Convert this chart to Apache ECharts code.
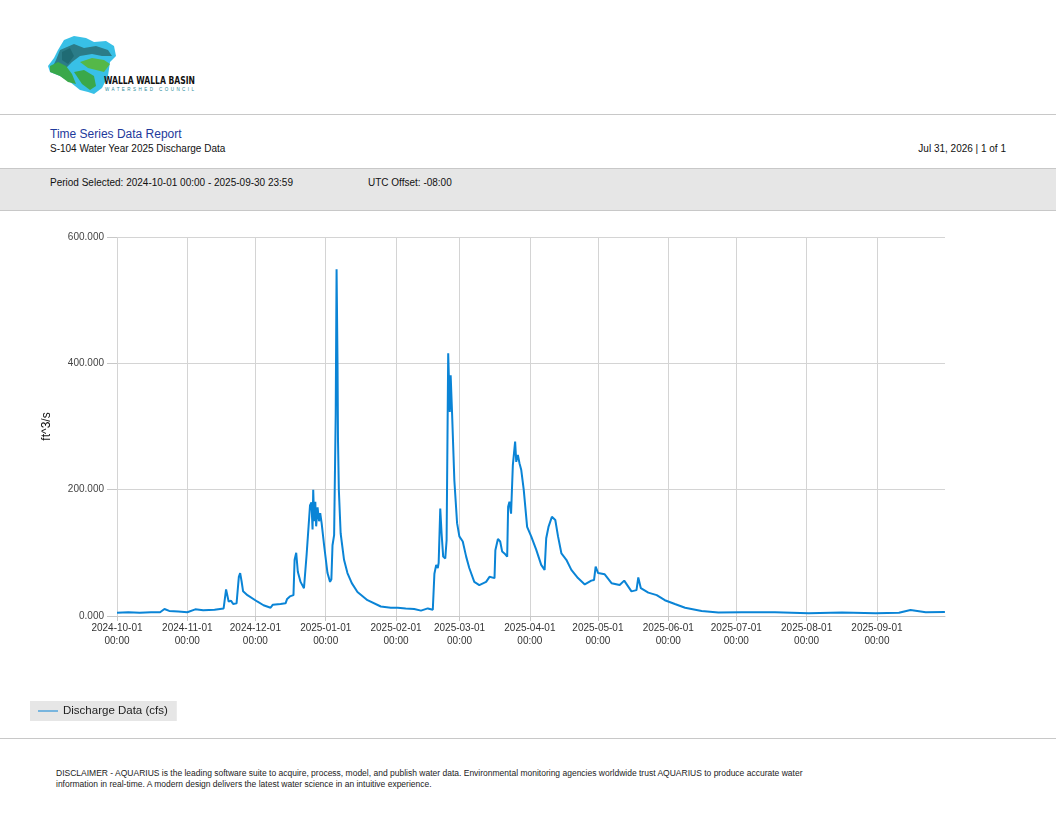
<!DOCTYPE html>
<html>
<head>
<meta charset="utf-8">
<script src="https://cdn.jsdelivr.net/npm/echarts@6/dist/echarts.min.js"></script>
<style>
  html, body { margin:0; padding:0; background:#fff; }
  body { width:1056px; height:816px; position:relative; overflow:hidden; font-family:"Liberation Sans", Arial, sans-serif; }
  .abs { position:absolute; }
  .hline { position:absolute; left:0; width:1056px; height:1px; background:#c8c8c8; }
  .band { position:absolute; left:0; top:169px; width:1056px; height:41px; background:#e6e6e6; }
  .t { position:absolute; white-space:nowrap; font-size:10px; color:#111; }
  #chart { position:absolute; left:0; top:220px; width:1056px; height:515px; }
</style>
</head>
<body>
<!-- logo -->
<svg class="abs" style="left:44px;top:32px" width="160" height="66" viewBox="0 0 160 66">
  <path d="M20,8 L30,4 L42,6 L50,10 L62,9 L70,14 L72,24 L66,30 L64,44 L58,56 L50,62 L44,60 L36,58 L26,50 L16,44 L6,40 L4,34 L10,26 L14,18 Z" fill="#38c0e6"/>
  <path d="M16,18 L30,12 L40,16 L52,14 L64,18 L68,24 L58,24 L48,22 L36,24 L28,30 L22,36 L14,40 L8,36 L12,28 Z" fill="#2b7c88"/>
  <path d="M6,34 L14,30 L22,34 L28,42 L32,52 L24,50 L16,44 L6,40 Z" fill="#3aa84a"/>
  <path d="M36,30 L48,26 L60,28 L66,32 L60,40 L52,38 L44,36 Z" fill="#55b848"/>
  <path d="M30,40 L40,38 L50,44 L52,54 L46,58 L38,52 Z" fill="#3aa84a"/>
  <path d="M18,20 L26,16 L30,24 L24,32 L18,28 Z" fill="#1f6b74"/>
  <text x="60" y="52" font-family="'DejaVu Sans Condensed','Liberation Sans Narrow','Liberation Sans',sans-serif" font-size="10.5" font-weight="bold" fill="#111" textLength="91" lengthAdjust="spacingAndGlyphs">WALLA WALLA BASIN</text>
  <text x="61" y="59" font-family="'Liberation Sans',sans-serif" font-size="4.5" fill="#2a8a9a" textLength="89" lengthAdjust="spacing">WATERSHED COUNCIL</text>
</svg>

<div class="hline" style="top:114px"></div>
<div class="t" style="left:50px;top:127px;font-size:12px;color:#1e3a9c;">Time Series Data Report</div>
<div class="t" style="left:50px;top:143px;">S-104 Water Year 2025 Discharge Data</div>
<div class="t" style="right:50px;top:143px;">Jul 31, 2026 | 1 of 1</div>
<div class="hline" style="top:168px"></div>
<div class="band"></div>
<div class="t" style="left:50px;top:177px;">Period Selected: 2024-10-01 00:00 - 2025-09-30 23:59</div>
<div class="t" style="left:368px;top:177px;">UTC Offset: -08:00</div>
<div class="hline" style="top:210px"></div>

<div id="chart"></div>

<div class="hline" style="top:738px"></div>
<div class="t" style="left:56px;top:768px;font-size:8.5px;color:#222;">DISCLAIMER - AQUARIUS is the leading software suite to acquire, process, model, and publish water data. Environmental monitoring agencies worldwide trust AQUARIUS to produce accurate water</div>
<div class="t" style="left:56px;top:779px;font-size:8.5px;color:#222;">information in real-time. A modern design delivers the latest water science in an intuitive experience.</div>

<script>
// ---- data ----
const seriesName = "Discharge Data (cfs)";
const yTicks = [0, 200, 400, 600];
const times = [
  "2024-10-01 00:00","2024-10-06 00:00","2024-10-11 00:00","2024-10-16 00:00","2024-10-20 00:00",
  "2024-10-21 22:00","2024-10-24 00:00","2024-10-28 00:00","2024-11-01 00:00","2024-11-04 12:00",
  "2024-11-08 00:00","2024-11-13 00:00","2024-11-17 00:00","2024-11-18 02:00","2024-11-19 05:00",
  "2024-11-20 07:00","2024-11-21 05:00","2024-11-22 17:00","2024-11-23 17:00","2024-11-24 07:00",
  "2024-11-24 22:00","2024-11-25 14:00","2024-11-27 12:00","2024-12-01 19:00","2024-12-04 14:00",
  "2024-12-07 17:00","2024-12-08 17:00","2024-12-12 02:00","2024-12-14 07:00","2024-12-15 00:00",
  "2024-12-16 05:00","2024-12-17 19:00","2024-12-18 07:00","2024-12-19 00:00","2024-12-19 17:00",
  "2024-12-20 22:00","2024-12-22 10:00","2024-12-22 22:00","2024-12-23 14:00","2024-12-24 05:00",
  "2024-12-25 02:00","2024-12-25 17:00","2024-12-26 05:00","2024-12-26 12:00","2024-12-26 22:00",
  "2024-12-27 10:00","2024-12-27 19:00","2024-12-28 10:00","2024-12-29 02:00","2024-12-29 14:00",
  "2024-12-30 05:00","2024-12-31 07:00","2025-01-01 19:00","2025-01-02 22:00","2025-01-03 12:00",
  "2025-01-04 00:00","2025-01-04 17:00","2025-01-05 10:00","2025-01-05 19:00","2025-01-06 05:00",
  "2025-01-06 10:00","2025-01-06 19:00","2025-01-07 14:00","2025-01-09 02:00","2025-01-10 14:00",
  "2025-01-12 12:00","2025-01-15 00:00","2025-01-19 10:00","2025-01-25 07:00","2025-01-29 17:00",
  "2025-02-01 17:00","2025-02-05 07:00","2025-02-09 00:00","2025-02-12 00:00","2025-02-15 00:00",
  "2025-02-17 05:00","2025-02-17 22:00","2025-02-18 17:00","2025-02-19 10:00","2025-02-19 19:00",
  "2025-02-20 12:00","2025-02-21 02:00","2025-02-21 19:00","2025-02-22 17:00","2025-02-23 07:00",
  "2025-02-24 00:00","2025-02-24 17:00","2025-02-25 02:00","2025-02-25 17:00","2025-02-26 17:00",
  "2025-02-27 22:00","2025-02-28 22:00","2025-03-02 10:00","2025-03-03 22:00","2025-03-05 07:00",
  "2025-03-07 12:00","2025-03-09 17:00","2025-03-12 17:00","2025-03-14 05:00","2025-03-16 10:00",
  "2025-03-16 19:00","2025-03-17 22:00","2025-03-18 22:00","2025-03-19 19:00","2025-03-20 19:00",
  "2025-03-22 00:00","2025-03-22 10:00","2025-03-23 00:00","2025-03-23 17:00","2025-03-24 12:00",
  "2025-03-25 12:00","2025-03-26 00:00","2025-03-26 17:00","2025-03-27 10:00","2025-03-28 05:00",
  "2025-03-29 07:00","2025-03-30 19:00","2025-04-01 14:00","2025-04-03 19:00","2025-04-06 00:00",
  "2025-04-07 12:00","2025-04-08 05:00","2025-04-09 05:00","2025-04-10 17:00","2025-04-12 05:00",
  "2025-04-13 10:00","2025-04-14 22:00","2025-04-17 02:00","2025-04-19 07:00","2025-04-22 05:00",
  "2025-04-25 05:00","2025-04-28 02:00","2025-04-29 07:00","2025-04-30 00:00","2025-05-01 02:00",
  "2025-05-04 00:00","2025-05-07 00:00","2025-05-10 14:00","2025-05-12 14:00","2025-05-15 19:00",
  "2025-05-18 00:00","2025-05-18 19:00","2025-05-19 22:00","2025-05-23 05:00","2025-05-26 22:00",
  "2025-05-30 12:00","2025-06-03 22:00","2025-06-08 10:00","2025-06-15 17:00","2025-06-23 02:00",
  "2025-07-03 10:00","2025-07-18 00:00","2025-08-01 22:00","2025-08-16 14:00","2025-08-31 10:00",
  "2025-09-10 17:00","2025-09-15 19:00","2025-09-22 12:00","2025-09-30 23:00"
];
const flows = [
  5, 6, 5, 6, 6,
  11, 8, 7, 6, 10.5,
  9, 10, 12, 42, 23,
  24, 19, 20, 62, 68,
  55, 39, 33, 23, 17,
  13, 18, 19, 20, 27,
  31, 33, 89, 100, 70,
  54, 44, 45, 97, 100,
  175, 180, 137, 200, 150,
  181, 142, 172, 150, 163,
  147, 112, 68, 54, 58,
  112, 128, 320, 549, 400,
  279, 200, 131, 89, 68,
  52, 38, 25, 15, 13,
  13, 12, 11, 8.5, 12,
  10, 67, 81, 76, 84,
  170, 131, 94, 91, 120,
  416, 323, 381, 321, 215,
  147, 126, 118, 94, 76,
  54, 49, 54, 62, 60,
  104, 122, 118, 102, 99,
  94, 173, 181, 162, 239,
  276, 244, 255, 242, 231,
  200, 141, 126, 105, 81,
  73, 123, 141, 157, 152,
  126, 99, 89, 73, 60,
  50, 56, 57, 78, 68,
  66, 52, 49, 56, 39,
  41, 61, 44, 37, 33,
  25, 19, 13, 8, 5.5,
  6, 6, 4.5, 5.5, 4.5,
  5, 9.5, 6, 6.5
];

const data = times.map((t, i) => [t, flows[i]]);
const chart = echarts.init(document.getElementById('chart'), null, { renderer: 'canvas' });
const pad = n => String(n).padStart(2, '0');
chart.setOption({
  animation: false,
  textStyle: { fontFamily: "'Liberation Sans', Arial, sans-serif" },
  grid: { left: 117, right: 111, top: 17, bottom: 119, containLabel: false },
  legend: {
    left: 30, top: 481,
    backgroundColor: '#e6e6e6',
    padding: [4, 9, 4, 8],
    itemWidth: 20, itemHeight: 10, itemGap: 4,
    textStyle: { color: '#222', fontSize: 11.5 },
    data: [{ name: seriesName, icon: 'path://M0,4.5 L20,4.5 L20,5.5 L0,5.5 Z' }]
  },
  xAxis: {
    type: 'time',
    min: '2024-10-01 00:00',
    max: '2025-09-30 23:59',
    splitNumber: 12,
    minInterval: 28 * 86400000,
    maxInterval: 31 * 86400000,
    axisLine: { show: true, lineStyle: { color: '#c8c8c8' } },
    axisTick: { show: true, length: 5, lineStyle: { color: '#c8c8c8' } },
    splitLine: { show: true, showMaxLine: false, lineStyle: { color: '#d4d4d4', width: 1 } },
    axisLabel: {
      color: '#333', fontSize: 10, lineHeight: 13, margin: 6,
      showMaxLabel: false,
      formatter: function (v) {
        const d = new Date(v);
        return d.getFullYear() + '-' + pad(d.getMonth() + 1) + '-' + pad(d.getDate()) + '\n' + pad(d.getHours()) + ':' + pad(d.getMinutes());
      }
    }
  },
  yAxis: {
    type: 'value',
    min: yTicks[0], max: yTicks[yTicks.length - 1], interval: 200,
    name: 'ft^3/s', nameLocation: 'middle', nameGap: 64, nameRotate: 90,
    nameTextStyle: { color: '#111', fontSize: 12 },
    axisLine: { show: false },
    axisTick: { show: true, length: 10, lineStyle: { color: '#c8c8c8' } },
    splitLine: { show: true, lineStyle: { color: '#d4d4d4' } },
    axisLabel: { color: '#444', fontSize: 10, margin: 13, formatter: v => v.toFixed(3) }
  },
  series: [{
    name: seriesName,
    type: 'line',
    data: data,
    symbol: 'none',
    showSymbol: false,
    lineStyle: { color: '#0a84d6', width: 2 },
    itemStyle: { color: '#0a84d6' }
  }]
});
</script>
</body>
</html>
